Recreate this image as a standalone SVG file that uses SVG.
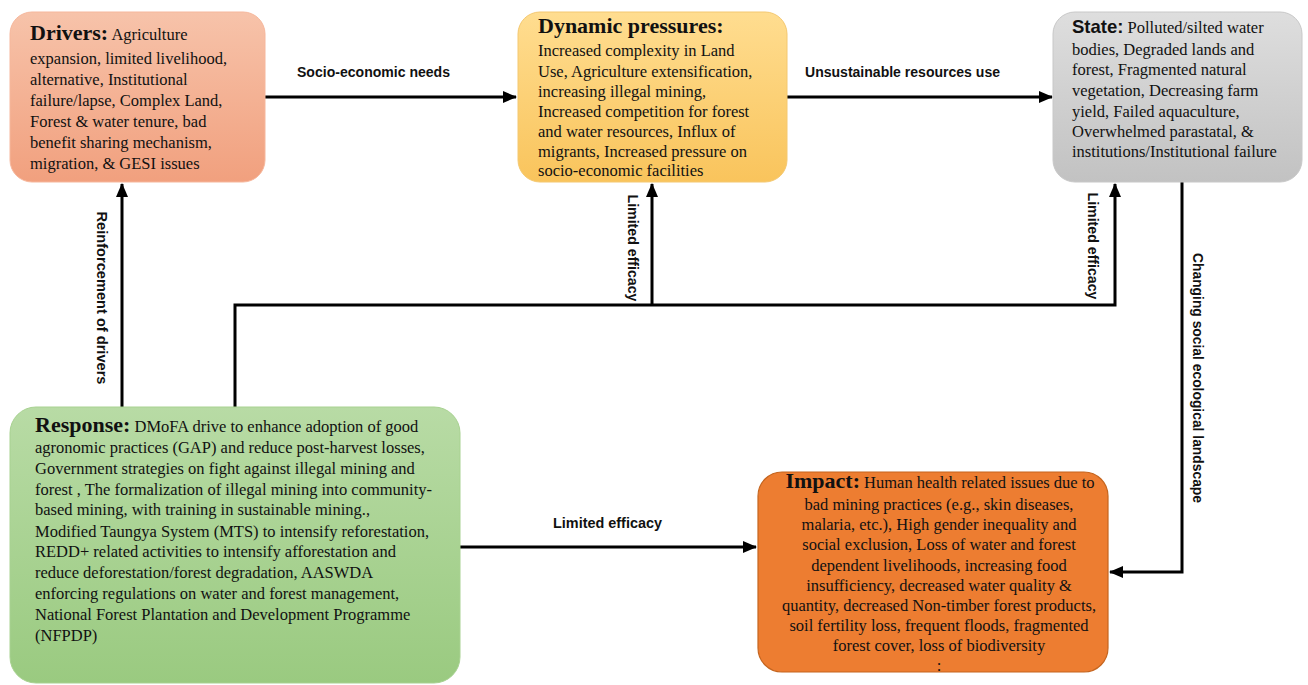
<svg xmlns="http://www.w3.org/2000/svg" width="1308" height="685" viewBox="0 0 1308 685">
<style>
.body{font-family:"Liberation Serif","Times New Roman",serif;font-size:16.5px;fill:#111;}
.ttl{font-family:"Liberation Serif","Times New Roman",serif;font-weight:bold;font-size:22px;fill:#111;}
.ttls{font-family:"Liberation Sans",Arial,sans-serif;font-weight:bold;font-size:18.5px;fill:#111;}
.lbl{font-family:"Liberation Sans",Arial,sans-serif;font-weight:bold;font-size:14px;fill:#111;}
.ln{fill:none;stroke:#000;stroke-width:3;}
</style>
<defs>
<linearGradient id="gDrv" x1="0" y1="0" x2="0" y2="1"><stop offset="0" stop-color="#F7C3AA"/><stop offset="1" stop-color="#F1A07E"/></linearGradient>
<linearGradient id="gDyn" x1="0" y1="0" x2="0" y2="1"><stop offset="0" stop-color="#FFDD90"/><stop offset="1" stop-color="#F9C45C"/></linearGradient>
<linearGradient id="gSta" x1="0" y1="0" x2="0" y2="1"><stop offset="0" stop-color="#DEDEDE"/><stop offset="1" stop-color="#C2C2C2"/></linearGradient>
<linearGradient id="gRes" x1="0" y1="0" x2="0" y2="1"><stop offset="0" stop-color="#B8DBA5"/><stop offset="1" stop-color="#9ACA80"/></linearGradient>
<marker id="ah" markerUnits="userSpaceOnUse" markerWidth="14" markerHeight="12" refX="13" refY="6" orient="auto"><path d="M0,0 L14,6 L0,12 z" fill="#000"/></marker>
</defs>

<g id="connectors">
<path class="ln" d="M265,97 H516" marker-end="url(#ah)"/>
<path class="ln" d="M787,97 H1052" marker-end="url(#ah)"/>
<path class="ln" d="M122,407 V184" marker-end="url(#ah)"/>
<path class="ln" d="M235,407 V305 H1115 V184" marker-end="url(#ah)"/>
<path class="ln" d="M652,305 V184" marker-end="url(#ah)"/>
<path class="ln" d="M1182,181 V572 H1110" marker-end="url(#ah)"/>
<path class="ln" d="M460,547 H756" marker-end="url(#ah)"/>
<text class="lbl" x="297" y="77" textLength="153" lengthAdjust="spacingAndGlyphs">Socio-economic needs</text>
<text class="lbl" x="805" y="77" textLength="195" lengthAdjust="spacingAndGlyphs">Unsustainable resources use</text>
<text class="lbl" x="553" y="528" textLength="109" lengthAdjust="spacingAndGlyphs">Limited efficacy</text>
<text class="lbl" transform="translate(102,298) rotate(90)" text-anchor="middle" dominant-baseline="central" textLength="173" lengthAdjust="spacingAndGlyphs">Reinforcement of drivers</text>
<text class="lbl" transform="translate(633,248) rotate(90)" text-anchor="middle" dominant-baseline="central" textLength="107" lengthAdjust="spacingAndGlyphs">Limited efficacy</text>
<text class="lbl" transform="translate(1093,246) rotate(90)" text-anchor="middle" dominant-baseline="central" textLength="107" lengthAdjust="spacingAndGlyphs">Limited efficacy</text>
<text class="lbl" transform="translate(1198,378) rotate(90)" text-anchor="middle" dominant-baseline="central" textLength="250" lengthAdjust="spacingAndGlyphs">Changing social ecological landscape</text>
</g>

<g id="drivers">
<rect x="10" y="12" width="255" height="170" rx="22" fill="url(#gDrv)" stroke="#F6B79C" stroke-width="1"/>
<text class="body" x="30" y="40"><tspan class="ttl">Drivers:</tspan> Agriculture</text>
<text class="body" x="30" y="64">expansion, limited livelihood,</text>
<text class="body" x="30" y="85">alternative, Institutional</text>
<text class="body" x="30" y="106">failure/lapse, Complex Land,</text>
<text class="body" x="30" y="127">Forest &amp; water tenure, bad</text>
<text class="body" x="30" y="148">benefit sharing mechanism,</text>
<text class="body" x="30" y="169">migration, &amp; GESI issues</text>
</g>

<g id="dynamic-pressures">
<rect x="518" y="12" width="269" height="170" rx="22" fill="url(#gDyn)" stroke="#F4C870" stroke-width="1"/>
<text class="ttl" x="538" y="33">Dynamic pressures:</text>
<text class="body" x="538" y="56">Increased complexity in Land</text>
<text class="body" x="538" y="77">Use, Agriculture extensification,</text>
<text class="body" x="538" y="97">increasing illegal  mining,</text>
<text class="body" x="538" y="117">Increased competition for forest</text>
<text class="body" x="538" y="137">and water resources, Influx of</text>
<text class="body" x="538" y="157">migrants, Increased pressure on</text>
<text class="body" x="538" y="176">socio-economic facilities</text>
</g>

<g id="state">
<rect x="1053" y="12" width="249" height="170" rx="22" fill="url(#gSta)" stroke="#C8C8C8" stroke-width="1"/>
<text class="body" x="1072" y="33"><tspan class="ttls">State:</tspan> Polluted/silted water</text>
<text class="body" x="1072" y="55">bodies, Degraded lands and</text>
<text class="body" x="1072" y="75">forest, Fragmented natural</text>
<text class="body" x="1072" y="96">vegetation, Decreasing farm</text>
<text class="body" x="1072" y="117">yield, Failed aquaculture,</text>
<text class="body" x="1072" y="137">Overwhelmed parastatal, &amp;</text>
<text class="body" x="1072" y="157">institutions/Institutional failure</text>
</g>

<g id="response">
<rect x="10" y="407" width="450" height="276" rx="26" fill="url(#gRes)" stroke="#A8D291" stroke-width="1"/>
<text class="body" x="35" y="432"><tspan class="ttl">Response:</tspan> DMoFA drive to enhance adoption of good</text>
<text class="body" x="35" y="453">agronomic practices (GAP) and reduce post-harvest losses,</text>
<text class="body" x="35" y="474">Government strategies on fight against illegal  mining and</text>
<text class="body" x="35" y="495">forest , The formalization of illegal  mining into community-</text>
<text class="body" x="35" y="515">based mining, with training in sustainable mining.,</text>
<text class="body" x="35" y="537">Modified Taungya System (MTS) to intensify reforestation,</text>
<text class="body" x="35" y="557">REDD+ related activities to intensify afforestation and</text>
<text class="body" x="35" y="578">reduce deforestation/forest degradation, AASWDA</text>
<text class="body" x="35" y="599">enforcing regulations on water and forest management,</text>
<text class="body" x="35" y="620">National Forest Plantation and Development Programme</text>
<text class="body" x="35" y="641">(NFPDP)</text>
</g>

<g id="impact">
<rect x="758" y="472" width="350" height="200" rx="24" fill="#ED7D31" stroke="#C5651F" stroke-width="1.2"/>
<text class="body" x="940" y="488" text-anchor="middle"><tspan class="ttl">Impact:</tspan> Human health related issues due to</text>
<text class="body" x="939" y="510" text-anchor="middle">bad mining practices (e.g., skin diseases,</text>
<text class="body" x="939" y="530" text-anchor="middle">malaria, etc.), High gender inequality and</text>
<text class="body" x="939" y="550" text-anchor="middle">social exclusion, Loss of water and forest</text>
<text class="body" x="939" y="571" text-anchor="middle">dependent livelihoods, increasing food</text>
<text class="body" x="939" y="591" text-anchor="middle">insufficiency, decreased water quality &amp;</text>
<text class="body" x="939" y="611" text-anchor="middle">quantity, decreased Non-timber forest products,</text>
<text class="body" x="939" y="631" text-anchor="middle">soil fertility  loss, frequent floods, fragmented</text>
<text class="body" x="939" y="651" text-anchor="middle">forest cover, loss of biodiversity</text>
<text class="body" x="939" y="671" text-anchor="middle">:</text>
</g>
</svg>
